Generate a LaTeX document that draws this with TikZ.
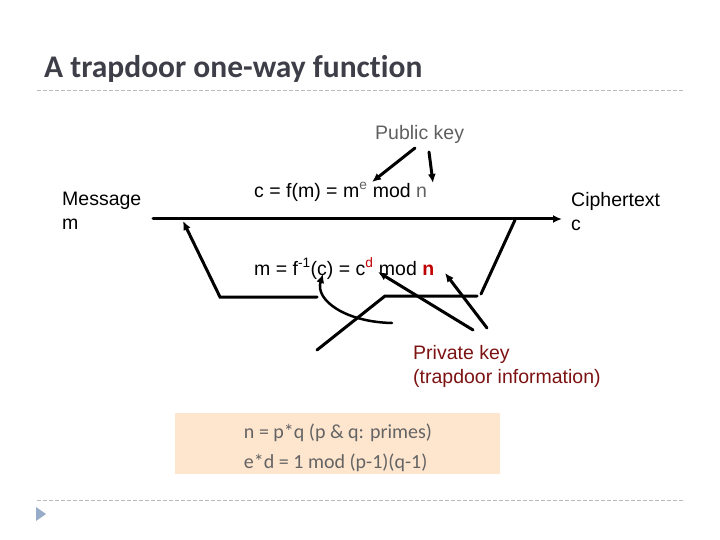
\documentclass[tikz,border=0pt]{standalone}
\usepackage{fontspec}
\setmainfont{Liberation Sans}
\newfontfamily\calibri[Ligatures=NoCommon]{Carlito}
\usetikzlibrary{arrows.meta,calc,positioning}
\definecolor{titlegray}{RGB}{62,62,72}
\definecolor{keygray}{RGB}{96,96,96}
\definecolor{keyred}{RGB}{192,0,0}
\definecolor{privred}{RGB}{125,18,18}
\definecolor{boxpeach}{RGB}{253,229,206}
\definecolor{factgray}{RGB}{100,100,100}
\definecolor{rulegray}{RGB}{185,185,190}
\definecolor{bulletblue}{RGB}{150,172,200}

\begin{document}
\begin{tikzpicture}[x=1pt, y=-1pt,
  every node/.style={inner sep=0pt, font=\fontsize{19.5}{24}\selectfont},
  flow/.style={line width=3pt, line cap=round},
  tip/.style={flow, -{Latex[length=9pt,width=8pt]}},
  rule/.style={rulegray, line width=1pt, dash pattern=on 4pt off 2pt}]
  \useasboundingbox (0,0) rectangle (720,540);
  % slide title and the two rules
  \node[anchor=base west, font=\calibri\bfseries\fontsize{31.5}{36}\selectfont, text=titlegray]
    (title) at (44,78) {A trapdoor one-way function};
  \draw[rule] (37,91) -- (685,91);
  \draw[rule] (37,500) -- (685,500);
  \fill[bulletblue] (36,507) -- (46,514) -- (36,521) -- cycle;
  % labels
  \node[anchor=base west, text=keygray] (pub) at (375,140) {Public key};
  \node[anchor=base west] (enc) at (254,197) {c = f(m) = m\textsuperscript{\textcolor{keygray}{e}} mod \textcolor{keygray}{n}};
  \node[anchor=base west] (dec) at (254,275) {m = f\textsuperscript{-1}(c) = c\textsuperscript{\textcolor{keyred}{d}} mod \textcolor{keyred}{\textbf{n}}};
  \node[anchor=north west, align=left] (msg) at (62,192) {Message\\m};
  \node[anchor=north west, align=left] (ctext) at (571,192) {Ciphertext\\c};
  \node[anchor=north west, align=left, text=privred] (priv) at (413,345) {Private key\\(trapdoor information)};
  % the trapdoor facts on a peach panel
  \fill[boxpeach] (175,413) rectangle (500,474);
  \node[align=left, font=\calibri\fontsize{20}{30}\selectfont, text=factgray]
    (facts) at (338,447.5) {n = p*q (p \& q: primes)\\e*d = 1 mod (p-1)(q-1)};
  % end points of the connectors
  \coordinate (mstart) at (153,219);
  \coordinate (cend) at (562,219);
  \coordinate (pubA) at (415,148);
  \coordinate (pubB) at (429,152);
  \coordinate (expE) at (372,182);
  \coordinate (modN) at (433,183);
  \coordinate (privA) at (473,330);
  \coordinate (privB) at (487,328);
  \coordinate (expD) at (378,272);
  \coordinate (modNd) at (445,273);
  \coordinate (argC) at (323,274);
  \coordinate (curl) at (392,323);
  \coordinate (backL) at (317,297);
  \coordinate (kneeL) at (220,297);
  \coordinate (topL) at (183,221);
  \coordinate (footR) at (317,350);
  \coordinate (kneeR) at (385,296);
  \coordinate (endR) at (477,296);
  \coordinate (lowR) at (481,294);
  \coordinate (topR) at (515,220);
  % forward direction
  \draw[tip] (mstart) -- (cend);
  \draw[tip] (pubA) -- (expE);
  \draw[tip] (pubB) -- (modN);
  % backward direction through the trapdoor
  \draw[tip] (backL) -- (kneeL) -- (topL);
  \draw[flow] (footR) -- (kneeR) -- (endR);
  \draw[flow] (lowR) -- (topR);
  \draw[tip, line width=2.5pt] (curl) .. controls (345,322) and (315,300) .. (argC);
  \draw[tip] (privA) -- (expD);
  \draw[tip] (privB) -- (modNd);
\end{tikzpicture}
\end{document}
